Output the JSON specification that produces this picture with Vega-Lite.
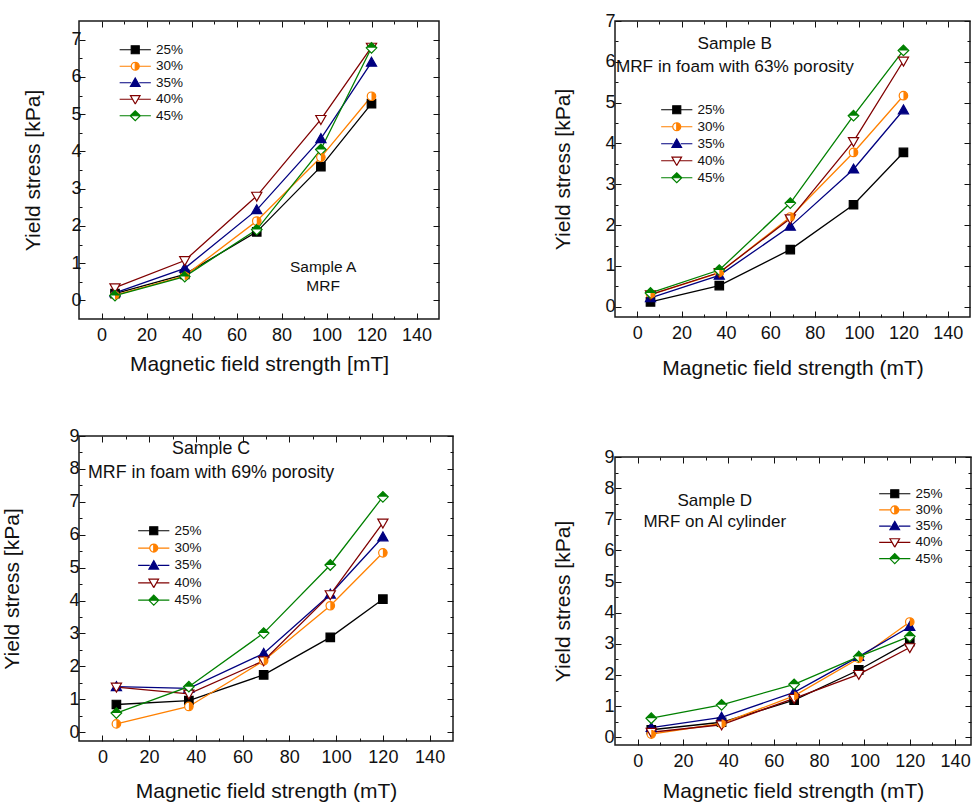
{
"$schema": "https://vega.github.io/schema/vega-lite/v6.json",
"padding": {"left": 0, "top": 11, "right": 0, "bottom": 0},
"datasets": {"d": [
{"p":"A","s":"25%","x":6,"y":0.18},{"p":"A","s":"25%","x":37,"y":0.70},{"p":"A","s":"25%","x":69,"y":1.84},{"p":"A","s":"25%","x":97.5,"y":3.59},{"p":"A","s":"25%","x":120,"y":5.28},
{"p":"A","s":"30%","x":6,"y":0.14},{"p":"A","s":"30%","x":37,"y":0.66},{"p":"A","s":"30%","x":69,"y":2.13},{"p":"A","s":"30%","x":97.5,"y":3.84},{"p":"A","s":"30%","x":120,"y":5.48},
{"p":"A","s":"35%","x":6,"y":0.2},{"p":"A","s":"35%","x":37,"y":0.86},{"p":"A","s":"35%","x":69,"y":2.43},{"p":"A","s":"35%","x":97.5,"y":4.34},{"p":"A","s":"35%","x":120,"y":6.39},
{"p":"A","s":"40%","x":6,"y":0.34},{"p":"A","s":"40%","x":37,"y":1.07},{"p":"A","s":"40%","x":69,"y":2.8},{"p":"A","s":"40%","x":97.5,"y":4.86},{"p":"A","s":"40%","x":120,"y":6.8},
{"p":"A","s":"45%","x":6,"y":0.13},{"p":"A","s":"45%","x":37,"y":0.64},{"p":"A","s":"45%","x":69,"y":1.9},{"p":"A","s":"45%","x":97.5,"y":4.05},{"p":"A","s":"45%","x":120,"y":6.78},
{"p":"B","s":"25%","x":6,"y":0.12},{"p":"B","s":"25%","x":37,"y":0.52},{"p":"B","s":"25%","x":69,"y":1.4},{"p":"B","s":"25%","x":97.5,"y":2.5},{"p":"B","s":"25%","x":120,"y":3.78},
{"p":"B","s":"30%","x":6,"y":0.3},{"p":"B","s":"30%","x":37,"y":0.83},{"p":"B","s":"30%","x":69,"y":2.2},{"p":"B","s":"30%","x":97.5,"y":3.78},{"p":"B","s":"30%","x":120,"y":5.17},
{"p":"B","s":"35%","x":6,"y":0.22},{"p":"B","s":"35%","x":37,"y":0.77},{"p":"B","s":"35%","x":69,"y":1.97},{"p":"B","s":"35%","x":97.5,"y":3.37},{"p":"B","s":"35%","x":120,"y":4.82},
{"p":"B","s":"40%","x":6,"y":0.3},{"p":"B","s":"40%","x":37,"y":0.84},{"p":"B","s":"40%","x":69,"y":2.16},{"p":"B","s":"40%","x":97.5,"y":4.05},{"p":"B","s":"40%","x":120,"y":6.02},
{"p":"B","s":"45%","x":6,"y":0.34},{"p":"B","s":"45%","x":37,"y":0.9},{"p":"B","s":"45%","x":69,"y":2.54},{"p":"B","s":"45%","x":97.5,"y":4.68},{"p":"B","s":"45%","x":120,"y":6.28},
{"p":"C","s":"25%","x":6,"y":0.84},{"p":"C","s":"25%","x":37,"y":0.96},{"p":"C","s":"25%","x":69,"y":1.74},{"p":"C","s":"25%","x":97.5,"y":2.88},{"p":"C","s":"25%","x":120,"y":4.04},
{"p":"C","s":"30%","x":6,"y":0.25},{"p":"C","s":"30%","x":37,"y":0.78},{"p":"C","s":"30%","x":69,"y":2.17},{"p":"C","s":"30%","x":97.5,"y":3.84},{"p":"C","s":"30%","x":120,"y":5.45},
{"p":"C","s":"35%","x":6,"y":1.38},{"p":"C","s":"35%","x":37,"y":1.33},{"p":"C","s":"35%","x":69,"y":2.39},{"p":"C","s":"35%","x":97.5,"y":4.19},{"p":"C","s":"35%","x":120,"y":5.93},
{"p":"C","s":"40%","x":6,"y":1.37},{"p":"C","s":"40%","x":37,"y":1.16},{"p":"C","s":"40%","x":69,"y":2.17},{"p":"C","s":"40%","x":97.5,"y":4.18},{"p":"C","s":"40%","x":120,"y":6.36},
{"p":"C","s":"45%","x":6,"y":0.58},{"p":"C","s":"45%","x":37,"y":1.38},{"p":"C","s":"45%","x":69,"y":3.01},{"p":"C","s":"45%","x":97.5,"y":5.08},{"p":"C","s":"45%","x":120,"y":7.15},
{"p":"D","s":"25%","x":6,"y":0.24},{"p":"D","s":"25%","x":37,"y":0.48},{"p":"D","s":"25%","x":69,"y":1.19},{"p":"D","s":"25%","x":97.5,"y":2.16},{"p":"D","s":"25%","x":120,"y":3.07},
{"p":"D","s":"30%","x":6,"y":0.1},{"p":"D","s":"30%","x":37,"y":0.44},{"p":"D","s":"30%","x":69,"y":1.33},{"p":"D","s":"30%","x":97.5,"y":2.53},{"p":"D","s":"30%","x":120,"y":3.7},
{"p":"D","s":"35%","x":6,"y":0.31},{"p":"D","s":"35%","x":37,"y":0.64},{"p":"D","s":"35%","x":69,"y":1.44},{"p":"D","s":"35%","x":97.5,"y":2.59},{"p":"D","s":"35%","x":120,"y":3.55},
{"p":"D","s":"40%","x":6,"y":0.16},{"p":"D","s":"40%","x":37,"y":0.4},{"p":"D","s":"40%","x":69,"y":1.25},{"p":"D","s":"40%","x":97.5,"y":2.02},{"p":"D","s":"40%","x":120,"y":2.88},
{"p":"D","s":"45%","x":6,"y":0.61},{"p":"D","s":"45%","x":37,"y":1.04},{"p":"D","s":"45%","x":69,"y":1.7},{"p":"D","s":"45%","x":97.5,"y":2.59},{"p":"D","s":"45%","x":120,"y":3.24}
]},
"data": {"name": "d"},
"spacing": 96,
"resolve": {"legend": {"color": "independent"}},
"hconcat": [
{"vconcat": [
{"width": 360, "height": 298,
 "transform": [{"filter": "datum.p === 'A'"}],
 "layer": [
  {"mark": {"type": "line", "strokeWidth": 1.3},
   "encoding": {
    "x": {"field": "x", "type": "quantitative", "scale": {"domain": [-10, 150], "nice": false, "zero": false},
      "axis": {"orient": "bottom", "values": [0,10,20,30,40,50,60,70,80,90,100,110,120,130,140], "labelExpr": "datum.value % 20 === 0 ? format(datum.value, 'd') : ''", "tickSize": {"condition": {"test": "datum.value % 20 === 0", "value": -6}, "value": -3}, "labelPadding": 13, "title": "Magnetic field strength [mT]", "titleY": 34.5, "titleBaseline": "top"}},
    "y": {"field": "y", "type": "quantitative", "scale": {"domain": [-0.5, 7.5], "nice": false, "zero": false},
      "axis": {"orient": "left", "values": [0,0.5,1,1.5,2,2.5,3,3.5,4,4.5,5,5.5,6,6.5,7], "labelExpr": "datum.value % 1 === 0 ? format(datum.value, 'd') : ''", "tickSize": {"condition": {"test": "datum.value % 1 === 0", "value": -6}, "value": -3}, "labelPadding": 4, "title": "Yield stress [kPa]", "titleX": -36}},
    "color": {"field": "s", "type": "nominal", "scale": {"domain": ["25%","30%","35%","40%","45%"], "range": ["#000000","#FF8000","#000080","#800000","#008000"]},
      "legend": {"title": null, "orient": "none", "legendX": 49.5, "legendY": 22, "padding": 0, "symbolSize": 64, "symbolStrokeWidth": 1.2, "labelFontSize": 13.5, "labelOffset": 14, "rowPadding": 1.5, "symbolType": "circle",
        "encode": {"symbols": {"update": {
          "shape": {"signal": "datum.value === '25%' ? 'M-3.9,0H-1M1,0H3.9M-1,-1H1V1H-1Z' : datum.value === '30%' ? 'M-3.9,0H-1M1,0H3.9M0,-1A1,1,0,0,1,0,1ZM0,-1A1,1,0,0,0,0,1A1,1,0,0,1,0,-1' : datum.value === '35%' ? 'M-3.9,0H-1M1,0H3.9M0,-1.2L1.2,0.9L-1.2,0.9Z' : datum.value === '40%' ? 'M-3.9,0H-0.7M0.7,0H3.9M0,1.2L1.2,-0.9L-1.2,-0.9L0,1.2L-1.2,-0.9L1.2,-0.9L0,1.2' : 'M-3.9,0H-1.25M1.25,0H3.9M-1.25,0L0,-1.25L1.25,0ZM-1.25,0L0,1.25L1.25,0L0,1.25Z'"},
          "stroke": {"signal": "datum.value === '25%' ? '#000000' : datum.value === '30%' ? '#FF8000' : datum.value === '35%' ? '#000080' : datum.value === '40%' ? '#800000' : '#008000'"},
          "opacity": {"value": 1}, "strokeWidth": {"value": 1.2}}}}}}
   }},
  {"mark": {"type": "point", "size": 72, "strokeWidth": 1.2, "opacity": 1},
   "encoding": {
    "x": {"field": "x", "type": "quantitative", "axis": {"orient": "top", "values": [0,10,20,30,40,50,60,70,80,90,100,110,120,130,140], "labels": false, "tickSize": {"condition": {"test": "datum.value % 20 === 0", "value": -6}, "value": -3}, "title": null}},
    "y": {"field": "y", "type": "quantitative", "axis": {"orient": "right", "values": [0,0.5,1,1.5,2,2.5,3,3.5,4,4.5,5,5.5,6,6.5,7], "labels": false, "tickSize": {"condition": {"test": "datum.value % 1 === 0", "value": -6}, "value": -3}, "title": null}},
    "shape": {"field": "s", "type": "nominal", "scale": {"domain": ["25%","30%","35%","40%","45%"], "range": ["M-1,-1H1V1H-1Z","M-1,0A1,1,0,1,1,1,0A1,1,0,1,1,-1,0Z","M0,-1.2L1.2,0.9L-1.2,0.9Z","M0,1.2L1.2,-0.9L-1.2,-0.9Z","M-1.25,0L0,-1.25L1.25,0L0,1.25Z"]}, "legend": null},
    "fill": {"field": "s", "type": "nominal", "scale": {"domain": ["25%","30%","35%","40%","45%"], "range": ["#000000","#ffffff","#000080","#ffffff","#ffffff"]}, "legend": null},
    "stroke": {"field": "s", "type": "nominal", "scale": {"domain": ["25%","30%","35%","40%","45%"], "range": ["#000000","#FF8000","#000080","#800000","#008000"]}, "legend": null}
   }},
  {"transform": [{"filter": "datum.s === '30%' || datum.s === '45%'"}],
   "mark": {"type": "point", "size": 72, "filled": true, "opacity": 1, "strokeWidth": 0},
   "encoding": {
    "x": {"field": "x", "type": "quantitative", "axis": null},
    "y": {"field": "y", "type": "quantitative", "axis": null},
    "shape": {"field": "s", "type": "nominal", "scale": {"domain": ["30%","45%"], "range": ["M0,-1A1,1,0,0,1,0,1Z","M-1.25,0L0,-1.25L1.25,0Z"]}, "legend": null},
    "color": {"field": "s", "type": "nominal", "legend": null}
   }},
  {"data": {"values": [{}]},
   "mark": {"type": "text", "text": ["Sample A", "MRF"], "fontSize": 15.5, "lineHeight": 19, "align": "center", "baseline": "middle", "color": "#111111"},
   "encoding": {"x": {"datum": 98.5, "axis": null}, "y": {"datum": 0.9, "axis": null}}}
 ],
 "resolve": {"scale": {"shape": "independent"}, "axis": {"x": "independent", "y": "independent"}}
},
{"width": 374, "height": 305,
 "transform": [{"filter": "datum.p === 'C'"}],
 "layer": [
  {"mark": {"type": "line", "strokeWidth": 1.3},
   "encoding": {
    "x": {"field": "x", "type": "quantitative", "scale": {"domain": [-10, 150], "nice": false, "zero": false},
      "axis": {"orient": "bottom", "values": [0,10,20,30,40,50,60,70,80,90,100,110,120,130,140], "labelExpr": "datum.value % 20 === 0 ? format(datum.value, 'd') : ''", "tickSize": {"condition": {"test": "datum.value % 20 === 0", "value": -6}, "value": -3}, "labelPadding": 13, "title": "Magnetic field strength (mT)", "titleY": 39.5, "titleBaseline": "top"}},
    "y": {"field": "y", "type": "quantitative", "scale": {"domain": [-0.27, 9], "nice": false, "zero": false},
      "axis": {"orient": "left", "values": [0,0.5,1,1.5,2,2.5,3,3.5,4,4.5,5,5.5,6,6.5,7,7.5,8,8.5,9], "labelExpr": "datum.value % 1 === 0 ? format(datum.value, 'd') : ''", "tickSize": {"condition": {"test": "datum.value % 1 === 0", "value": -6}, "value": -3}, "labelPadding": 6, "title": "Yield stress [kPa]", "titleX": -57}},
    "color": {"field": "s", "type": "nominal", "scale": {"domain": ["25%","30%","35%","40%","45%"], "range": ["#000000","#FF8000","#000080","#800000","#008000"]},
      "legend": {"title": null, "orient": "none", "legendX": 68, "legendY": 88, "padding": 0, "symbolSize": 64, "symbolStrokeWidth": 1.2, "labelFontSize": 13.5, "labelOffset": 14, "rowPadding": 2.35, "symbolType": "circle",
        "encode": {"symbols": {"update": {
          "shape": {"signal": "datum.value === '25%' ? 'M-3.9,0H-1M1,0H3.9M-1,-1H1V1H-1Z' : datum.value === '30%' ? 'M-3.9,0H-1M1,0H3.9M0,-1A1,1,0,0,1,0,1ZM0,-1A1,1,0,0,0,0,1A1,1,0,0,1,0,-1' : datum.value === '35%' ? 'M-3.9,0H-1M1,0H3.9M0,-1.2L1.2,0.9L-1.2,0.9Z' : datum.value === '40%' ? 'M-3.9,0H-0.7M0.7,0H3.9M0,1.2L1.2,-0.9L-1.2,-0.9L0,1.2L-1.2,-0.9L1.2,-0.9L0,1.2' : 'M-3.9,0H-1.25M1.25,0H3.9M-1.25,0L0,-1.25L1.25,0ZM-1.25,0L0,1.25L1.25,0L0,1.25Z'"},
          "stroke": {"signal": "datum.value === '25%' ? '#000000' : datum.value === '30%' ? '#FF8000' : datum.value === '35%' ? '#000080' : datum.value === '40%' ? '#800000' : '#008000'"},
          "opacity": {"value": 1}, "strokeWidth": {"value": 1.2}}}}}}
   }},
  {"mark": {"type": "point", "size": 72, "strokeWidth": 1.2, "opacity": 1},
   "encoding": {
    "x": {"field": "x", "type": "quantitative", "axis": {"orient": "top", "values": [0,10,20,30,40,50,60,70,80,90,100,110,120,130,140], "labels": false, "tickSize": {"condition": {"test": "datum.value % 20 === 0", "value": -6}, "value": -3}, "title": null}},
    "y": {"field": "y", "type": "quantitative", "axis": {"orient": "right", "values": [0,0.5,1,1.5,2,2.5,3,3.5,4,4.5,5,5.5,6,6.5,7,7.5,8,8.5,9], "labels": false, "tickSize": {"condition": {"test": "datum.value % 1 === 0", "value": -6}, "value": -3}, "title": null}},
    "shape": {"field": "s", "type": "nominal", "scale": {"domain": ["25%","30%","35%","40%","45%"], "range": ["M-1,-1H1V1H-1Z","M-1,0A1,1,0,1,1,1,0A1,1,0,1,1,-1,0Z","M0,-1.2L1.2,0.9L-1.2,0.9Z","M0,1.2L1.2,-0.9L-1.2,-0.9Z","M-1.25,0L0,-1.25L1.25,0L0,1.25Z"]}, "legend": null},
    "fill": {"field": "s", "type": "nominal", "scale": {"domain": ["25%","30%","35%","40%","45%"], "range": ["#000000","#ffffff","#000080","#ffffff","#ffffff"]}, "legend": null},
    "stroke": {"field": "s", "type": "nominal", "scale": {"domain": ["25%","30%","35%","40%","45%"], "range": ["#000000","#FF8000","#000080","#800000","#008000"]}, "legend": null}
   }},
  {"transform": [{"filter": "datum.s === '30%' || datum.s === '45%'"}],
   "mark": {"type": "point", "size": 72, "filled": true, "opacity": 1, "strokeWidth": 0},
   "encoding": {
    "x": {"field": "x", "type": "quantitative", "axis": null},
    "y": {"field": "y", "type": "quantitative", "axis": null},
    "shape": {"field": "s", "type": "nominal", "scale": {"domain": ["30%","45%"], "range": ["M0,-1A1,1,0,0,1,0,1Z","M-1.25,0L0,-1.25L1.25,0Z"]}, "legend": null},
    "color": {"field": "s", "type": "nominal", "legend": null}
   }},
  {"data": {"values": [{}]},
   "mark": {"type": "text", "text": ["Sample C", "MRF in foam with 69% porosity"], "fontSize": 17.8, "lineHeight": 23.4, "align": "center", "baseline": "middle", "color": "#111111"},
   "encoding": {"x": {"datum": 46.5, "axis": null}, "y": {"datum": 8.6, "axis": null}}}
 ],
 "resolve": {"scale": {"shape": "independent"}, "axis": {"x": "independent", "y": "independent"}}
}
], "spacing": 50, "resolve": {"legend": {"color": "independent"}}},
{"concat": [
{"width": 355, "height": 296,
 "transform": [{"filter": "datum.p === 'B'"}],
 "layer": [
  {"mark": {"type": "line", "strokeWidth": 1.3},
   "encoding": {
    "x": {"field": "x", "type": "quantitative", "scale": {"domain": [-10, 150], "nice": false, "zero": false},
      "axis": {"orient": "bottom", "values": [0,10,20,30,40,50,60,70,80,90,100,110,120,130,140], "labelExpr": "datum.value % 20 === 0 ? format(datum.value, 'd') : ''", "tickSize": {"condition": {"test": "datum.value % 20 === 0", "value": -6}, "value": -3}, "labelPadding": 13, "title": "Magnetic field strength (mT)", "titleY": 40.5, "titleBaseline": "top"}},
    "y": {"field": "y", "type": "quantitative", "scale": {"domain": [-0.25, 7], "nice": false, "zero": false},
      "axis": {"orient": "left", "values": [0,0.5,1,1.5,2,2.5,3,3.5,4,4.5,5,5.5,6,6.5,7], "labelExpr": "datum.value % 1 === 0 ? format(datum.value, 'd') : ''", "tickSize": {"condition": {"test": "datum.value % 1 === 0", "value": -6}, "value": -3}, "labelPadding": 6, "title": "Yield stress [kPa]", "titleX": -42}},
    "color": {"field": "s", "type": "nominal", "scale": {"domain": ["25%","30%","35%","40%","45%"], "range": ["#000000","#FF8000","#000080","#800000","#008000"]},
      "legend": {"title": null, "orient": "none", "legendX": 55, "legendY": 82, "padding": 0, "symbolSize": 64, "symbolStrokeWidth": 1.2, "labelFontSize": 13.5, "labelOffset": 14, "rowPadding": 2, "symbolType": "circle",
        "encode": {"symbols": {"update": {
          "shape": {"signal": "datum.value === '25%' ? 'M-3.9,0H-1M1,0H3.9M-1,-1H1V1H-1Z' : datum.value === '30%' ? 'M-3.9,0H-1M1,0H3.9M0,-1A1,1,0,0,1,0,1ZM0,-1A1,1,0,0,0,0,1A1,1,0,0,1,0,-1' : datum.value === '35%' ? 'M-3.9,0H-1M1,0H3.9M0,-1.2L1.2,0.9L-1.2,0.9Z' : datum.value === '40%' ? 'M-3.9,0H-0.7M0.7,0H3.9M0,1.2L1.2,-0.9L-1.2,-0.9L0,1.2L-1.2,-0.9L1.2,-0.9L0,1.2' : 'M-3.9,0H-1.25M1.25,0H3.9M-1.25,0L0,-1.25L1.25,0ZM-1.25,0L0,1.25L1.25,0L0,1.25Z'"},
          "stroke": {"signal": "datum.value === '25%' ? '#000000' : datum.value === '30%' ? '#FF8000' : datum.value === '35%' ? '#000080' : datum.value === '40%' ? '#800000' : '#008000'"},
          "opacity": {"value": 1}, "strokeWidth": {"value": 1.2}}}}}}
   }},
  {"mark": {"type": "point", "size": 72, "strokeWidth": 1.2, "opacity": 1},
   "encoding": {
    "x": {"field": "x", "type": "quantitative", "axis": {"orient": "top", "values": [0,10,20,30,40,50,60,70,80,90,100,110,120,130,140], "labels": false, "tickSize": {"condition": {"test": "datum.value % 20 === 0", "value": -6}, "value": -3}, "title": null}},
    "y": {"field": "y", "type": "quantitative", "axis": {"orient": "right", "values": [0,0.5,1,1.5,2,2.5,3,3.5,4,4.5,5,5.5,6,6.5,7], "labels": false, "tickSize": {"condition": {"test": "datum.value % 1 === 0", "value": -6}, "value": -3}, "title": null}},
    "shape": {"field": "s", "type": "nominal", "scale": {"domain": ["25%","30%","35%","40%","45%"], "range": ["M-1,-1H1V1H-1Z","M-1,0A1,1,0,1,1,1,0A1,1,0,1,1,-1,0Z","M0,-1.2L1.2,0.9L-1.2,0.9Z","M0,1.2L1.2,-0.9L-1.2,-0.9Z","M-1.25,0L0,-1.25L1.25,0L0,1.25Z"]}, "legend": null},
    "fill": {"field": "s", "type": "nominal", "scale": {"domain": ["25%","30%","35%","40%","45%"], "range": ["#000000","#ffffff","#000080","#ffffff","#ffffff"]}, "legend": null},
    "stroke": {"field": "s", "type": "nominal", "scale": {"domain": ["25%","30%","35%","40%","45%"], "range": ["#000000","#FF8000","#000080","#800000","#008000"]}, "legend": null}
   }},
  {"transform": [{"filter": "datum.s === '30%' || datum.s === '45%'"}],
   "mark": {"type": "point", "size": 72, "filled": true, "opacity": 1, "strokeWidth": 0},
   "encoding": {
    "x": {"field": "x", "type": "quantitative", "axis": null},
    "y": {"field": "y", "type": "quantitative", "axis": null},
    "shape": {"field": "s", "type": "nominal", "scale": {"domain": ["30%","45%"], "range": ["M0,-1A1,1,0,0,1,0,1Z","M-1.25,0L0,-1.25L1.25,0Z"]}, "legend": null},
    "color": {"field": "s", "type": "nominal", "legend": null}
   }},
  {"data": {"values": [{}]},
   "mark": {"type": "text", "text": ["Sample B", "MRF in foam with 63% porosity"], "fontSize": 17.2, "lineHeight": 22.4, "align": "center", "baseline": "middle", "color": "#111111"},
   "encoding": {"x": {"datum": 44, "axis": null}, "y": {"datum": 6.43, "axis": null}}}
 ],
 "resolve": {"scale": {"shape": "independent"}, "axis": {"x": "independent", "y": "independent"}}
},
{"width": 356, "height": 288,
 "transform": [{"filter": "datum.p === 'D'"}],
 "layer": [
  {"mark": {"type": "line", "strokeWidth": 1.3},
   "encoding": {
    "x": {"field": "x", "type": "quantitative", "scale": {"domain": [-10, 147], "nice": false, "zero": false},
      "axis": {"orient": "bottom", "values": [0,10,20,30,40,50,60,70,80,90,100,110,120,130,140], "labelExpr": "datum.value % 20 === 0 ? format(datum.value, 'd') : ''", "tickSize": {"condition": {"test": "datum.value % 20 === 0", "value": -6}, "value": -3}, "labelPadding": 13, "title": "Magnetic field strength (mT)", "titleY": 35, "titleBaseline": "top"}},
    "y": {"field": "y", "type": "quantitative", "scale": {"domain": [-0.25, 9], "nice": false, "zero": false},
      "axis": {"orient": "left", "values": [0,0.5,1,1.5,2,2.5,3,3.5,4,4.5,5,5.5,6,6.5,7,7.5,8,8.5,9], "labelExpr": "datum.value % 1 === 0 ? format(datum.value, 'd') : ''", "tickSize": {"condition": {"test": "datum.value % 1 === 0", "value": -6}, "value": -3}, "labelPadding": 7, "title": "Yield stress [kPa]", "titleX": -42}},
    "color": {"field": "s", "type": "nominal", "scale": {"domain": ["25%","30%","35%","40%","45%"], "range": ["#000000","#FF8000","#000080","#800000","#008000"]},
      "legend": {"title": null, "orient": "none", "legendX": 273, "legendY": 30, "padding": 0, "symbolSize": 64, "symbolStrokeWidth": 1.2, "labelFontSize": 13.5, "labelOffset": 14, "rowPadding": 1.2, "symbolType": "circle",
        "encode": {"symbols": {"update": {
          "shape": {"signal": "datum.value === '25%' ? 'M-3.9,0H-1M1,0H3.9M-1,-1H1V1H-1Z' : datum.value === '30%' ? 'M-3.9,0H-1M1,0H3.9M0,-1A1,1,0,0,1,0,1ZM0,-1A1,1,0,0,0,0,1A1,1,0,0,1,0,-1' : datum.value === '35%' ? 'M-3.9,0H-1M1,0H3.9M0,-1.2L1.2,0.9L-1.2,0.9Z' : datum.value === '40%' ? 'M-3.9,0H-0.7M0.7,0H3.9M0,1.2L1.2,-0.9L-1.2,-0.9L0,1.2L-1.2,-0.9L1.2,-0.9L0,1.2' : 'M-3.9,0H-1.25M1.25,0H3.9M-1.25,0L0,-1.25L1.25,0ZM-1.25,0L0,1.25L1.25,0L0,1.25Z'"},
          "stroke": {"signal": "datum.value === '25%' ? '#000000' : datum.value === '30%' ? '#FF8000' : datum.value === '35%' ? '#000080' : datum.value === '40%' ? '#800000' : '#008000'"},
          "opacity": {"value": 1}, "strokeWidth": {"value": 1.2}}}}}}
   }},
  {"mark": {"type": "point", "size": 72, "strokeWidth": 1.2, "opacity": 1},
   "encoding": {
    "x": {"field": "x", "type": "quantitative", "axis": {"orient": "top", "values": [0,10,20,30,40,50,60,70,80,90,100,110,120,130,140], "labels": false, "tickSize": {"condition": {"test": "datum.value % 20 === 0", "value": -6}, "value": -3}, "title": null}},
    "y": {"field": "y", "type": "quantitative", "axis": {"orient": "right", "values": [0,0.5,1,1.5,2,2.5,3,3.5,4,4.5,5,5.5,6,6.5,7,7.5,8,8.5,9], "labels": false, "tickSize": {"condition": {"test": "datum.value % 1 === 0", "value": -6}, "value": -3}, "title": null}},
    "shape": {"field": "s", "type": "nominal", "scale": {"domain": ["25%","30%","35%","40%","45%"], "range": ["M-1,-1H1V1H-1Z","M-1,0A1,1,0,1,1,1,0A1,1,0,1,1,-1,0Z","M0,-1.2L1.2,0.9L-1.2,0.9Z","M0,1.2L1.2,-0.9L-1.2,-0.9Z","M-1.25,0L0,-1.25L1.25,0L0,1.25Z"]}, "legend": null},
    "fill": {"field": "s", "type": "nominal", "scale": {"domain": ["25%","30%","35%","40%","45%"], "range": ["#000000","#ffffff","#000080","#ffffff","#ffffff"]}, "legend": null},
    "stroke": {"field": "s", "type": "nominal", "scale": {"domain": ["25%","30%","35%","40%","45%"], "range": ["#000000","#FF8000","#000080","#800000","#008000"]}, "legend": null}
   }},
  {"transform": [{"filter": "datum.s === '30%' || datum.s === '45%'"}],
   "mark": {"type": "point", "size": 72, "filled": true, "opacity": 1, "strokeWidth": 0},
   "encoding": {
    "x": {"field": "x", "type": "quantitative", "axis": null},
    "y": {"field": "y", "type": "quantitative", "axis": null},
    "shape": {"field": "s", "type": "nominal", "scale": {"domain": ["30%","45%"], "range": ["M0,-1A1,1,0,0,1,0,1Z","M-1.25,0L0,-1.25L1.25,0Z"]}, "legend": null},
    "color": {"field": "s", "type": "nominal", "legend": null}
   }},
  {"data": {"values": [{}]},
   "mark": {"type": "text", "text": ["Sample D", "MRF on Al cylinder"], "fontSize": 17, "lineHeight": 21, "align": "center", "baseline": "middle", "color": "#111111"},
   "encoding": {"x": {"datum": 34, "axis": null}, "y": {"datum": 7.59, "axis": null}}}
 ],
 "resolve": {"scale": {"shape": "independent"}, "axis": {"x": "independent", "y": "independent"}}
}
], "columns": 1, "align": "none", "spacing": 67, "resolve": {"legend": {"color": "independent"}}}
],
"config": {
 "view": {"stroke": "#1a1a1a", "strokeWidth": 1.5},
 "font": "Liberation Sans",
 "axis": {"labelFont": "Liberation Sans", "titleFont": "Liberation Sans", "labelFontSize": 18, "titleFontSize": 21, "titleFontWeight": "normal", "labelColor": "#111111", "titleColor": "#111111", "tickColor": "#111111", "tickWidth": 1, "grid": false, "domain": false, "labelOverlap": false, "labelFlush": false, "labelBound": false},
 "legend": {"labelFont": "Liberation Sans", "labelColor": "#111111"},
 "text": {"font": "Liberation Sans"}
}
}
